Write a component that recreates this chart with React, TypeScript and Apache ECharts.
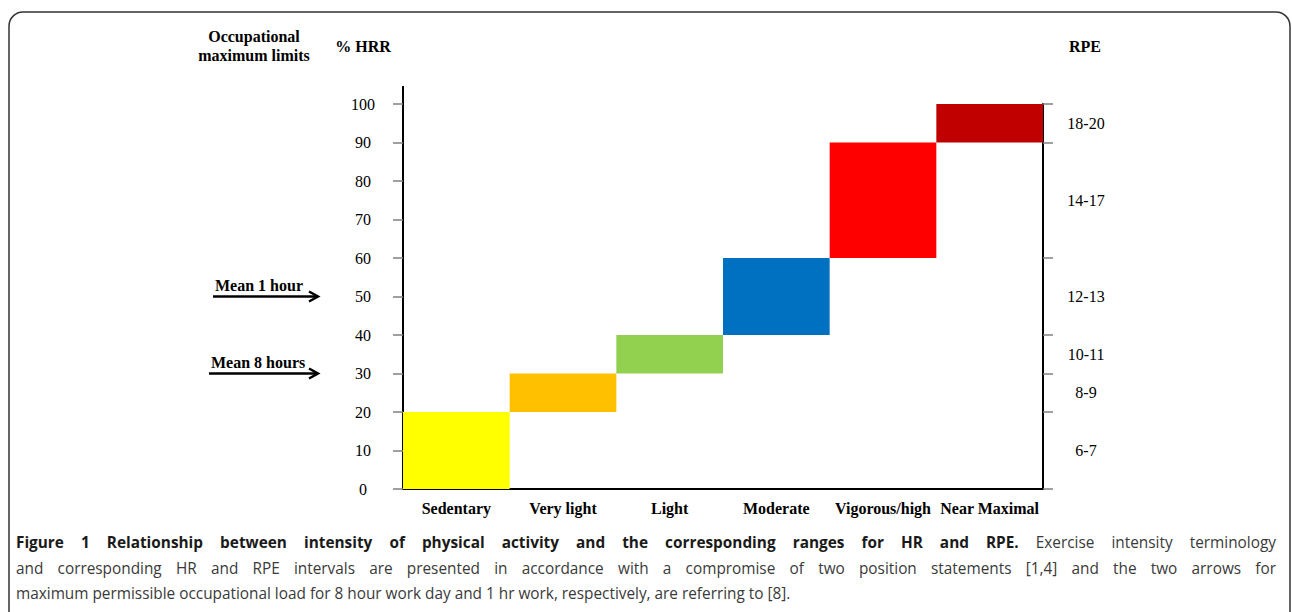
import React, { useEffect, useRef } from "react";
import * as echarts from "echarts";

const categories = ["Sedentary", "Very light", "Light", "Moderate", "Vigorous/high", "Near Maximal"];
const hrrLow = [0, 20, 30, 40, 60, 90];
const hrrHigh = [20, 30, 40, 60, 90, 100];
const barColors = ["#FFFF00", "#FFC000", "#92D050", "#0070C0", "#FF0000", "#C00000"];
const rpeBounds = [0, 20, 30, 40, 60, 90, 100];
const rpeLabelValues = [10, 25, 35, 50, 75, 95];
const rpeLabels = ["6-7", "8-9", "10-11", "12-13", "14-17", "18-20"];
const occLimits = [
  { name: "Mean 1 hour", hrr: 50, x0: 213 },
  { name: "Mean 8 hours", hrr: 30, x0: 209 },
];
const captionBold = "Figure 1 Relationship between intensity of physical activity and the corresponding ranges for HR and RPE.";
const captionLines = [
  "Exercise intensity terminology",
  "and corresponding HR and RPE intervals are presented in accordance with a compromise of two position statements [1,4] and the two arrows for",
  "maximum permissible occupational load for 8 hour work day and 1 hr work, respectively, are referring to [8].",
];

const SERIF = "'Liberation Serif', 'Times New Roman', serif";
const SANS = "'Open Sans', 'Noto Sans', sans-serif";
const CAP_SIZE = 16;
const CAP_SCALE = 0.96;

export default function App() {
  const ref = useRef<HTMLDivElement>(null);
  useEffect(() => {
    if (!ref.current) return;
    const chart = echarts.init(ref.current, null, { renderer: "svg" });
    const option: any = {
      animation: false,
      backgroundColor: "#ffffff",
      grid: { left: 403, right: 249, top: 104, bottom: 123, containLabel: false },
      xAxis: {
        type: "category",
        data: categories,
        axisLine: { lineStyle: { color: "#000", width: 2 } },
        axisTick: { show: false },
        axisLabel: { fontFamily: SERIF, fontWeight: "bold", fontSize: 16, color: "#000", margin: 11, interval: 0 },
        splitLine: { show: false },
      },
      yAxis: [
        {
          type: "value",
          min: 0,
          max: 100,
          interval: 10,
          position: "left",
          axisLine: { show: true, lineStyle: { color: "#000", width: 2 } },
          axisTick: { show: true, length: 10, lineStyle: { color: "#808080", width: 1.5 } },
          axisLabel: { fontFamily: SERIF, fontSize: 16, color: "#000", margin: 40, align: "center" },
          splitLine: { show: false },
        },
        {
          type: "value",
          min: 0,
          max: 100,
          position: "right",
          axisLine: { show: true, lineStyle: { color: "#000", width: 2 } },
          axisTick: { show: true, length: 10, customValues: rpeBounds, lineStyle: { color: "#808080", width: 1.5 } },
          axisLabel: {
            customValues: rpeLabelValues,
            formatter: (v: number) => rpeLabels[rpeLabelValues.indexOf(v)] ?? "",
            fontFamily: SERIF,
            fontSize: 16,
            color: "#000",
            margin: 43,
            align: "center",
          },
          splitLine: { show: false },
        },
      ],
      series: [
        {
          type: "bar",
          stack: "hrr",
          data: hrrLow,
          itemStyle: { color: "transparent" },
          barCategoryGap: "0%",
          silent: true,
        },
        {
          type: "bar",
          stack: "hrr",
          data: hrrHigh.map((h, i) => ({ value: h - hrrLow[i], itemStyle: { color: barColors[i] } })),
          barCategoryGap: "0%",
        },
      ],
    };
    chart.setOption(option);

    const yTop = chart.convertToPixel({ yAxisIndex: 0 }, 100) as number;
    const arrows: any[] = [];
    occLimits.forEach((o) => {
      const y = chart.convertToPixel({ yAxisIndex: 0 }, o.hrr) as number;
      arrows.push(
        { type: "line", shape: { x1: o.x0, y1: y, x2: 317, y2: y }, style: { stroke: "#000", lineWidth: 2.5 } },
        { type: "polyline", shape: { points: [[309, y - 5], [318, y], [309, y + 5]] }, style: { stroke: "#000", lineWidth: 2.5, fill: null } },
        {
          type: "text",
          x: o.x0 + 2,
          y: y - 3,
          style: { text: o.name, fontFamily: SERIF, fontWeight: "bold", fontSize: 16, fill: "#000", verticalAlign: "bottom" },
        }
      );
    });

    // Justified caption layout (measure words)
    const canvas = document.createElement("canvas");
    const ctx = canvas.getContext("2d")!;
    const measure = (t: string, bold: boolean) => {
      ctx.font = `${bold ? "bold " : ""}${CAP_SIZE}px 'Open Sans'`;
      return ctx.measureText(t).width * CAP_SCALE;
    };
    const capLeft = 16;
    const capRight = 1276;
    const wordEl = (t: string, b: boolean, x: number, y: number) => ({
      type: "text",
      x,
      y,
      scaleX: CAP_SCALE,
      style: {
        text: t,
        fontFamily: SANS,
        fontWeight: b ? "bold" : "normal",
        fontSize: CAP_SIZE,
        fill: b ? "#1a1a1a" : "#3a3a3a",
        verticalAlign: "middle",
      },
    });
    const justify = (words: { t: string; b: boolean }[], y: number) => {
      const widths = words.map((w) => measure(w.t, w.b));
      const total = widths.reduce((a, b) => a + b, 0);
      const gap = (capRight - capLeft - total) / (words.length - 1);
      let x = capLeft;
      return words.map((w, i) => {
        const el = wordEl(w.t, w.b, x, y);
        x += widths[i] + gap;
        return el;
      });
    };
    const line1Words = [
      ...captionBold.split(" ").map((t) => ({ t, b: true })),
      ...captionLines[0].split(" ").map((t) => ({ t, b: false })),
    ];
    const line2Words = captionLines[1].split(" ").map((t) => ({ t, b: false }));
    const captionEls = [
      ...justify(line1Words, 542),
      ...justify(line2Words, 568),
      wordEl(captionLines[2], false, capLeft, 593),
    ];

    chart.setOption({
      graphic: [
        {
          type: "rect",
          shape: { x: 9, y: 12, width: 1281, height: 640, r: 14 },
          style: { fill: "none", stroke: "#333", lineWidth: 1.5 },
          silent: true,
        },
        { type: "line", shape: { x1: 403, y1: 86, x2: 403, y2: yTop }, style: { stroke: "#000", lineWidth: 2 } },
        {
          type: "text",
          x: 254,
          y: 46,
          style: {
            text: "Occupational\nmaximum limits",
            fontFamily: SERIF,
            fontWeight: "bold",
            fontSize: 16,
            lineHeight: 19,
            fill: "#000",
            align: "center",
            verticalAlign: "middle",
          },
        },
        {
          type: "text",
          x: 363,
          y: 46,
          style: { text: "% HRR", fontFamily: SERIF, fontWeight: "bold", fontSize: 16, fill: "#000", align: "center", verticalAlign: "middle" },
        },
        {
          type: "text",
          x: 1085,
          y: 46,
          style: { text: "RPE", fontFamily: SERIF, fontWeight: "bold", fontSize: 16, fill: "#000", align: "center", verticalAlign: "middle" },
        },
        ...arrows,
        ...captionEls,
      ],
    });

    return () => chart.dispose();
  }, []);
  return <div ref={ref} style={{ position: "fixed", left: 0, top: 0, width: 1292, height: 612 }} />;
}
